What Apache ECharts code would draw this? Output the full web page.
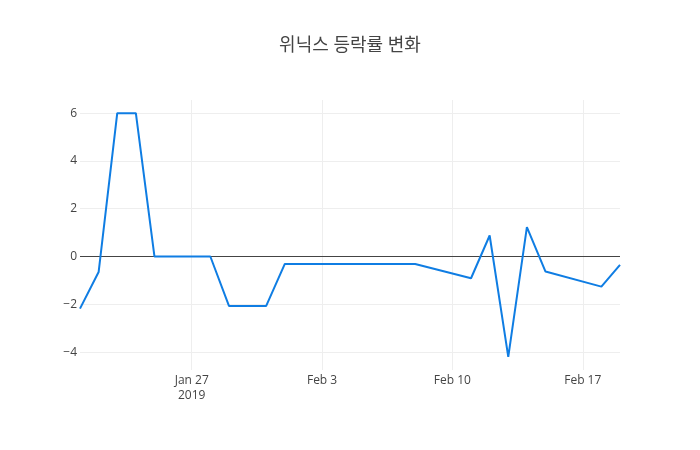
<!DOCTYPE html>
<html>
<head>
<meta charset="utf-8">
<script src="https://cdn.jsdelivr.net/npm/echarts@6/dist/echarts.min.js"></script>
<style>html,body{margin:0;padding:0;background:#fff}#c{width:700px;height:450px}</style>
</head>
<body>
<div id="c"></div>
<script>
var titleText = '위닉스 등락률 변화';
var dates = ['2019-01-21','2019-01-22','2019-01-23','2019-01-24','2019-01-25','2019-01-28','2019-01-29','2019-01-30','2019-01-31','2019-02-01','2019-02-07','2019-02-08','2019-02-11','2019-02-12','2019-02-13','2019-02-14','2019-02-15','2019-02-18','2019-02-19'];
var changes = [-2.18,-0.65,6.0,6.0,0.0,0.0,-2.07,-2.07,-2.07,-0.31,-0.31,-0.31,-0.91,0.88,-4.2,1.23,-0.63,-1.26,-0.35];
var xTickDates = ['2019-01-27','2019-02-03','2019-02-10','2019-02-17'];
var xRange = ['2019-01-21','2019-02-19'];
var yTicks = [-4,-2,0,2,4,6];
var yRange = [-4.75,6.55];

function ts(s){var p=s.split('-');return Date.UTC(+p[0],+p[1]-1,+p[2]);}
var months=['Jan','Feb','Mar','Apr','May','Jun','Jul','Aug','Sep','Oct','Nov','Dec'];
var xTickVals = xTickDates.map(ts);
var firstTick = xTickVals[0];
var data = dates.map(function(d,i){return [ts(d), changes[i]];});

var chart = echarts.init(document.getElementById('c'), null, {renderer:'canvas'});
chart.setOption({
  animation:false,
  backgroundColor:'#fff',
  title:{text:titleText,left:'center',top:32,textStyle:{fontFamily:'"Open Sans","Noto Sans CJK KR",sans-serif',fontSize:18,fontWeight:'normal',color:'#444'}},
  grid:{left:80,right:80,top:100,bottom:80,containLabel:false},
  xAxis:{type:'value',min:ts(xRange[0]),max:ts(xRange[1]),
    axisLine:{show:false},
    axisTick:{show:false,customValues:xTickVals},
    splitLine:{show:true,lineStyle:{color:'#eee',width:1},customValues:xTickVals},
    axisLabel:{customValues:xTickVals,color:'#444',fontFamily:'"Open Sans",sans-serif',fontSize:12,margin:3,lineHeight:15,
      formatter:function(v){var d=new Date(v);var s=months[d.getUTCMonth()]+' '+d.getUTCDate();if(v===firstTick)s+='\n'+d.getUTCFullYear();return s;}}
  },
  yAxis:{type:'value',min:yRange[0],max:yRange[1],
    axisLine:{show:false},
    axisTick:{show:false,customValues:yTicks},
    splitLine:{show:true,lineStyle:{color:'#eee',width:1},customValues:yTicks},
    axisLabel:{customValues:yTicks,color:'#444',fontFamily:'"Open Sans",sans-serif',fontSize:12,margin:3,
      formatter:function(v){return v<0?'\u2212'+Math.abs(v):String(v);}}
  },
  series:[{type:'line',data:data,showSymbol:false,symbol:'none',
    lineStyle:{color:'#0f7de3',width:2},
    markLine:{silent:true,symbol:'none',label:{show:false},lineStyle:{color:'#444',width:1,type:'solid'},data:[{yAxis:0}],z:1}
  }]
});
</script>
</body>
</html>
